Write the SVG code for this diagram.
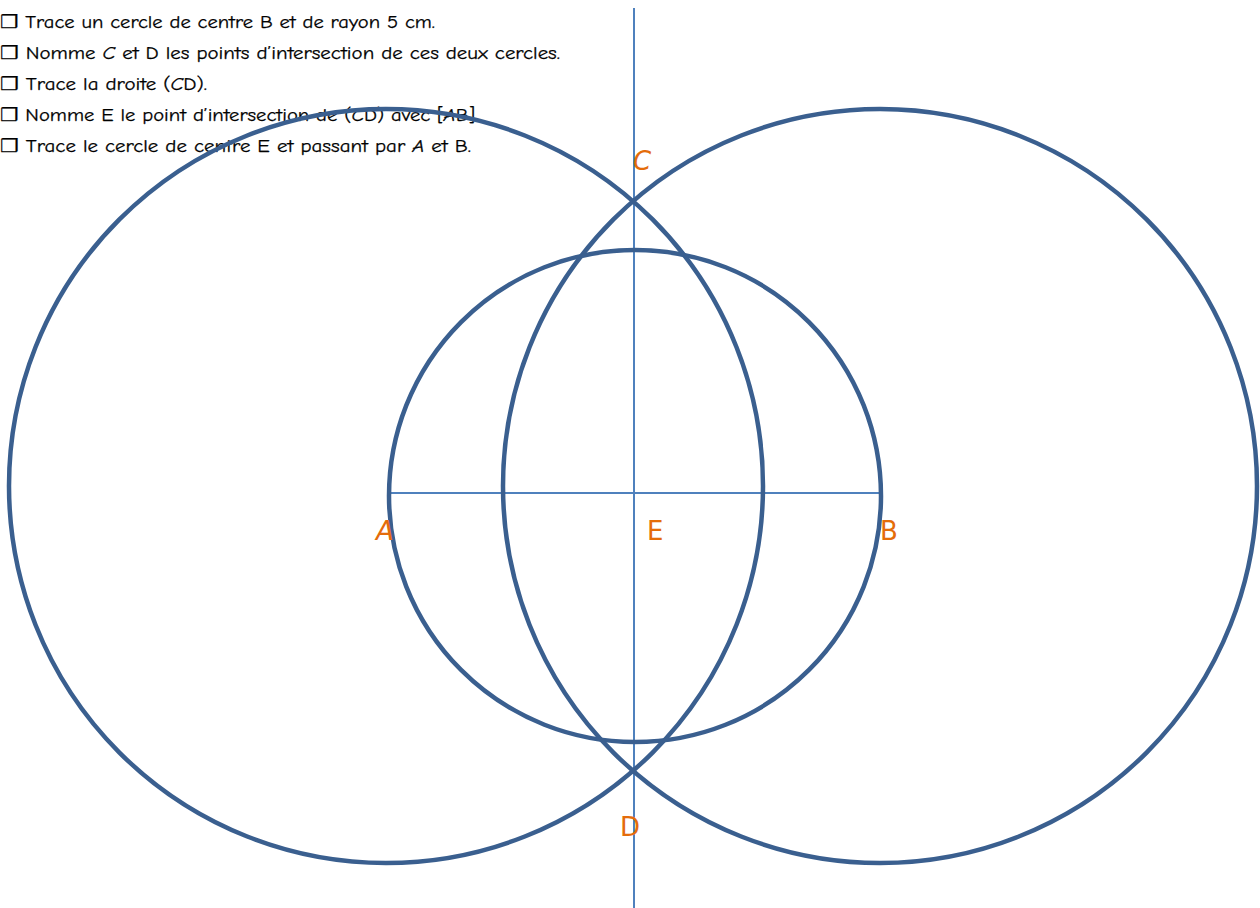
<svg xmlns="http://www.w3.org/2000/svg" width="1260" height="908" viewBox="0 0 1260 908">
  <style>
    .instr { font-family: "Comic Sans MS", "Comic Neue", "DejaVu Sans", sans-serif; font-size: 18px; fill: #000000; stroke: #000000; stroke-width: 0.25; }
    .lbl { font-family: "Comic Sans MS", "DejaVu Sans", sans-serif; font-size: 26px; fill: #e46c0a; }
    .circ { fill: none; stroke: #3a5f8f; stroke-width: 4.5; }
    .ln { fill: none; stroke: #4f81bd; stroke-width: 2; }
  </style>
  <rect width="1260" height="908" fill="#ffffff"/>
  <g id="instructions">
    <text class="instr" x="0" y="28" textLength="435" lengthAdjust="spacingAndGlyphs">❒ Trace un cercle de centre B et de rayon 5 cm.</text>
    <text class="instr" x="0" y="59" textLength="560" lengthAdjust="spacingAndGlyphs">❒ Nomme <tspan font-style="italic">C</tspan> et D les points d’intersection de ces deux cercles.</text>
    <text class="instr" x="0" y="90" textLength="207" lengthAdjust="spacingAndGlyphs">❒ Trace la droite (<tspan font-style="italic">C</tspan>D).</text>
    <text class="instr" x="0" y="121" textLength="475" lengthAdjust="spacingAndGlyphs">❒ Nomme E le point d’intersection de (<tspan font-style="italic">C</tspan>D) avec [<tspan font-style="italic">A</tspan>B]</text>
    <text class="instr" x="0" y="152" textLength="471" lengthAdjust="spacingAndGlyphs">❒ Trace le cercle de centre E et passant par <tspan font-style="italic">A</tspan> et B.</text>
  </g>
  <g id="connectors">
    <line class="ln" x1="634" y1="8" x2="634" y2="908"/>
    <line class="ln" x1="389" y1="493" x2="880" y2="493"/>
  </g>
  <g id="circleA"><circle class="circ" cx="386" cy="486" r="377"/></g>
  <g id="circleB"><circle class="circ" cx="880" cy="486" r="377"/></g>
  <g id="circleE"><circle class="circ" cx="635" cy="496" r="246"/></g>
  <g id="labelC"><text class="lbl" x="633" y="170" font-style="italic">C</text></g>
  <g id="labelA"><text class="lbl" x="376" y="540" font-style="italic">A</text></g>
  <g id="labelE"><text class="lbl" x="647" y="540">E</text></g>
  <g id="labelB"><text class="lbl" x="880" y="540">B</text></g>
  <g id="labelD"><text class="lbl" x="620" y="836">D</text></g>
</svg>
